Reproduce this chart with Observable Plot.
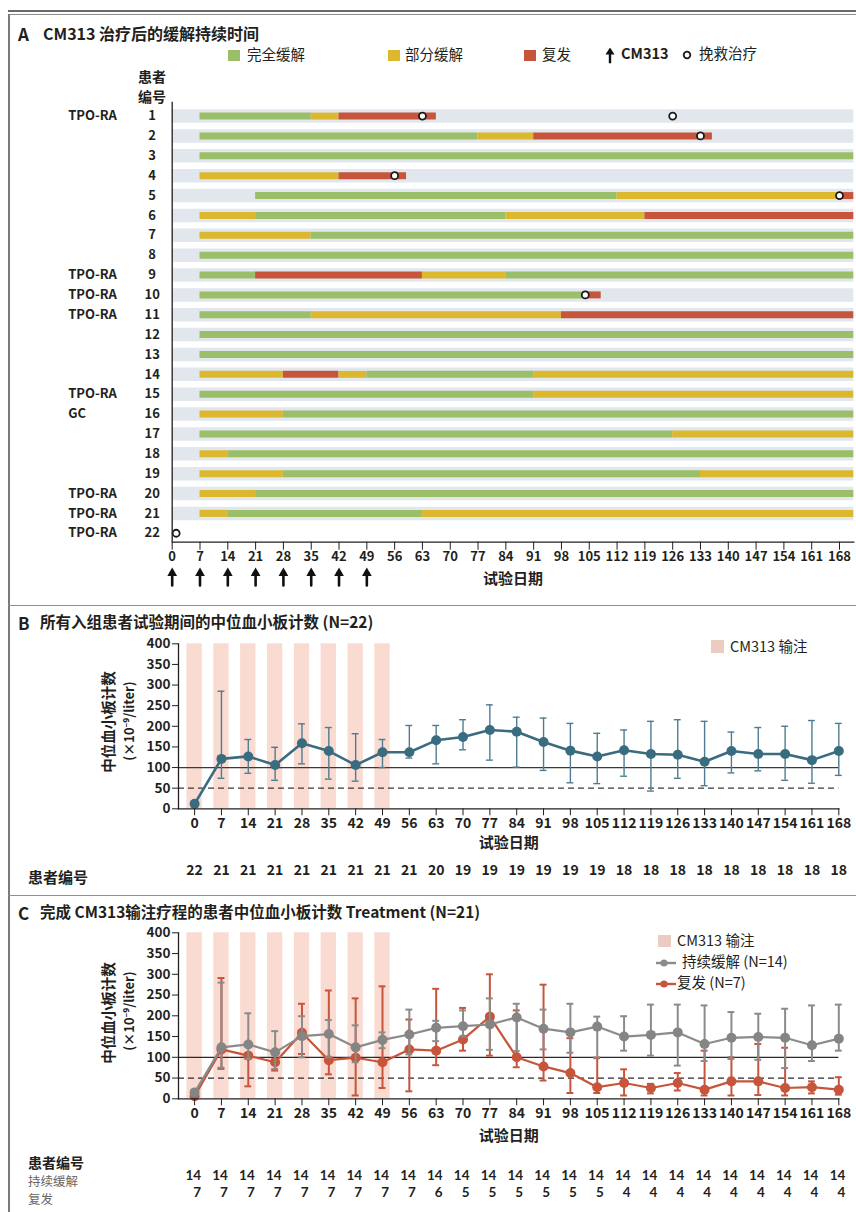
<!DOCTYPE html>
<html><head><meta charset="utf-8">
<script src="https://cdn.jsdelivr.net/npm/d3@7"></script>
<script src="https://cdn.jsdelivr.net/npm/@observablehq/plot@0.6"></script>
<style>
body{margin:0;background:#fff;}
#page{position:relative;width:856px;height:1212px;overflow:hidden;font-family:"Noto Sans CJK SC","Noto Sans",sans-serif;color:#231f20;background:#fff;}
.abs{position:absolute;white-space:nowrap;line-height:1;}
.line{position:absolute;}
.chart{position:absolute;left:0;}
</style></head>
<body><div id="page"></div>
<script>
// ---------------- DATA ----------------
const DAYS = [0,7,14,21,28,35,42,49,56,63,70,77,84,91,98,105,112,119,126,133,140,147,154,161,168];
const INFUSION_DAYS = [0,7,14,21,28,35,42,49];
const Y_TICKS = [0,50,100,150,200,250,300,350,400];

// Panel A: response durations
const PATIENTS = [1,2,3,4,5,6,7,8,9,10,11,12,13,14,15,16,17,18,19,20,21,22];
const PRIOR = ["TPO-RA","","","","","","","","TPO-RA","TPO-RA","TPO-RA","","","","TPO-RA","GC","","","","TPO-RA","TPO-RA","TPO-RA"];
const BAND_PATIENTS = [1,2,3,4,5,6,7,8,9,10,11,12,13,14,15,16,17,18,19,20,21];
const FOLLOW_END = 171.6;
const E = FOLLOW_END;
const SEG_PATIENT = [1,1,1, 2,2,2, 3, 4,4, 5,5,5, 6,6,6,6, 7,7, 8, 9,9,9,9, 10,10, 11,11,11, 12, 13, 14,14,14,14,14, 15,15, 16,16, 17,17, 18,18, 19,19,19, 20,20, 21,21,21];
const SEG_START   = [7,35,42, 7,77,91, 7, 7,42, 21,112,168, 7,21,84,119, 7,35, 7, 7,21,63,84, 7,104, 7,35,98, 7, 7, 7,28,42,49,91, 7,91, 7,28, 7,126, 7,14, 7,28,133, 7,21, 7,14,63];
const SEG_END     = [35,42,66.5, 77,91,136, E, 42,59, 112,168,E, 21,84,119,E, 35,E, E, 21,63,84,E, 104,108, 35,98,E, E, E, 28,42,49,91,E, 91,E, 28,E, 126,E, 14,E, 28,133,E, 21,E, 14,63,E];
const SEG_STATE   = ["CR","PR","R", "CR","PR","R", "CR", "PR","R", "CR","PR","R", "PR","CR","PR","R", "PR","CR", "CR", "CR","R","PR","CR", "CR","R", "CR","PR","R", "CR", "CR", "PR","R","PR","CR","PR", "CR","PR", "PR","CR", "CR","PR", "PR","CR", "PR","CR","PR", "PR","CR", "PR","CR","PR"];
const RESCUE_PATIENT = [1,1,2,4,5,10,22];
const RESCUE_DAY     = [63,126,133,56,168,104,1];

// Panel B: all enrolled patients
const B_MEDIAN = [12,121,127,106,159,140,106,137,137,166,174,191,187,162,141,127,142,133,131,114,140,133,133,118,140];
const B_LOW    = [null,74,86,69,109,72,67,100,123,109,143,118,101,93,63,61,79,43,74,56,87,92,69,62,81];
const B_HIGH   = [null,285,168,149,206,197,182,168,202,202,216,252,222,220,207,183,191,212,216,212,186,197,200,214,207];
const B_N      = [22,21,21,21,21,21,21,21,21,20,19,19,19,19,19,19,18,18,18,18,18,18,18,18,18];

// Panel C: sustained remission vs relapse
const REM_MEDIAN = [15,124,131,112,151,156,124,142,155,171,175,179,196,169,160,174,150,154,160,132,147,149,147,129,145];
const REM_LOW    = [8,75,96,72,100,100,88,122,107,139,150,118,115,119,111,100,116,104,80,91,96,94,74,91,116];
const REM_HIGH   = [22,280,206,163,199,190,177,160,215,188,213,242,229,215,229,198,199,227,227,225,209,205,217,225,227];
const REM_N      = [14,14,14,14,14,14,14,14,14,14,14,14,14,14,14,14,14,14,14,14,14,14,14,14,14];
const REL_MEDIAN = [6,119,104,88,159,93,99,88,119,116,143,198,100,78,62,28,38,26,38,22,42,42,26,28,22];
const REL_LOW    = [2,72,30,68,108,59,8,26,18,81,116,104,76,44,14,14,8,13,20,8,8,9,8,13,10];
const REL_HIGH   = [10,291,110,95,229,261,242,271,191,265,219,300,213,275,146,98,71,36,62,116,100,132,123,42,52];
const REL_N      = [7,7,7,7,7,7,7,7,7,6,5,5,5,5,5,5,4,4,4,4,4,4,4,4,4];

// ---------------- STYLE ----------------
const FONT = '"Noto Sans CJK SC","Noto Sans",sans-serif';
const NUMFONT = 'Lato,"Noto Sans CJK SC",sans-serif';
const INK = "#231f20";
const C_CR = "#9bbf69", C_PR = "#dcb82e", C_R = "#c6553b";
const BAND = "#e2e7ee";
const PINK = "#fadbd2", PINK_LEG = "#ecccc2";
const TEAL = "#3a6c80", TEAL_ERR = "#4e7d91";
const GRAY = "#8b8b8b", RED = "#c6553b";

const page = document.getElementById("page");
function label(html, x, y, style) {
  const d = document.createElement("div");
  d.className = "abs";
  d.style.left = x + "px"; d.style.top = y + "px";
  d.style.transform = "translateY(-50%)";
  d.innerHTML = html;
  Object.assign(d.style, style || {});
  page.appendChild(d); return d;
}
function hline(x, y, w, h, color) {
  const d = document.createElement("div"); d.className = "line";
  Object.assign(d.style, {left: x+"px", top: y+"px", width: w+"px", height: h+"px", background: color});
  page.appendChild(d);
}
function mount(svg, top) {
  const w = document.createElement("div"); w.className = "chart"; w.style.top = top + "px";
  w.appendChild(svg); page.appendChild(w);
}
const svgStyle = {fontFamily: FONT, fontSize: "13px", color: INK, background: "transparent", overflow: "visible"};
const ROT = "translate(-50%,-50%) rotate(-90deg)";
const CENTER = "translate(-50%,-50%)";

// ---------------- FRAME ----------------
hline(8, 10, 848, 1.6, "#6a6a6a");
hline(8, 13.6, 848, 1.4, "#8a8a8a");
hline(8, 14, 1.6, 1198, "#7a7a7a");
hline(8, 604.5, 848, 1.8, "#8f8f8f");
hline(8, 894.5, 848, 1.8, "#8f8f8f");

// ---------------- PANEL A ----------------
const segs = SEG_PATIENT.map((p, i) => ({patient: p, start: SEG_START[i], end: SEG_END[i], state: SEG_STATE[i]}));
const rescue = RESCUE_PATIENT.map((p, i) => ({patient: p, day: RESCUE_DAY[i]}));
const priorRows = PATIENTS.map((p, i) => ({patient: p, prior: PRIOR[i]})).filter(d => d.prior);

const chartA = Plot.plot({
  width: 856, height: 600,
  marginLeft: 171.7, marginRight: 2.7, marginTop: 101.7, marginBottom: 58.3,
  x: {domain: [0, FOLLOW_END]},
  y: {domain: [0.3, 22.45], reverse: true},
  color: {domain: ["CR", "PR", "R"], range: [C_CR, C_PR, C_R]},
  style: svgStyle,
  marks: [
    Plot.ruleY(BAND_PATIENTS, {y: d => d, stroke: BAND, strokeWidth: 13.5}),
    Plot.ruleY(segs, {y: "patient", x1: "start", x2: "end", stroke: "state", strokeWidth: 7}),
    Plot.dot(rescue, {x: "day", y: "patient", r: 3.5, fill: "white", stroke: "#1a1a1a", strokeWidth: 1.8}),
    Plot.ruleX([0], {stroke: INK, strokeWidth: 1.3}),
    Plot.frame({anchor: "bottom", stroke: INK, strokeWidth: 1.3}),
    Plot.axisX({ticks: DAYS, tickSize: 8, tickPadding: 2, fontSize: 13, fontWeight: 600, label: null, stroke: INK, fill: INK}),
    Plot.axisY({ticks: PATIENTS, tickSize: 0, tickPadding: 20, textAnchor: "middle", fontSize: 13, fontWeight: 600, label: null, fill: INK}),
    Plot.text(priorRows, {y: "patient", text: "prior", frameAnchor: "left", dx: -104, textAnchor: "start", fontSize: 13, fontWeight: 600, fill: INK}),
    Plot.vector(INFUSION_DAYS, {x: d => d, frameAnchor: "bottom", dy: 43.3, length: 14, anchor: "start", r: 2, stroke: "#111", strokeWidth: 2.6}),
    Plot.dot(INFUSION_DAYS, {x: d => d, frameAnchor: "bottom", dy: 30.9, symbol: "triangle", r: 3.6, fill: "#111", stroke: "none"}),
    Plot.text(["试验日期"], {frameAnchor: "bottom", dy: 41.5, fontSize: 15, fontWeight: 700, fill: INK})
  ]
});
mount(chartA, 0);

label("A", 18, 33, {fontSize: "17px", fontWeight: 700});
label("CM313 治疗后的缓解持续时间", 43, 33, {fontSize: "16px", fontWeight: 700});
label("患者", 152, 75.5, {fontSize: "14px", fontWeight: 700, transform: CENTER});
label("编号", 152, 95.5, {fontSize: "14px", fontWeight: 700, transform: CENTER});
// legend A
const sq = (c) => `<span style="display:inline-block;width:12px;height:11px;background:${c};"></span>`;
label(sq(C_CR), 228, 54);
label("完全缓解", 247, 54, {fontSize: "14.5px"});
label(sq(C_PR), 388, 54);
label("部分缓解", 405, 54, {fontSize: "14.5px"});
label(sq(C_R), 524, 54);
label("复发", 542, 54, {fontSize: "14.5px"});
label(`<svg width="10" height="16" viewBox="0 0 10 16"><path d="M5 0 L9.5 7 L0.5 7 Z" fill="#111"/><line x1="5" y1="5" x2="5" y2="16" stroke="#111" stroke-width="2.4"/></svg>`, 605, 56);
label("CM313", 621, 53, {fontSize: "14.5px", fontWeight: 700});
label(`<svg width="10" height="10"><circle cx="5" cy="5" r="3.3" fill="white" stroke="#1a1a1a" stroke-width="1.8"/></svg>`, 682, 53);
label("挽救治疗", 699, 53, {fontSize: "14.5px"});

// ---------------- PANEL B ----------------
const bData = DAYS.map((d, i) => ({day: d, med: B_MEDIAN[i], lo: B_LOW[i], hi: B_HIGH[i], n: B_N[i]}));
const bErr = bData.filter(d => d.lo != null);
const CAP = 0.9;

function axesBC() {
  return [
    Plot.frame({anchor: "left", stroke: INK, strokeWidth: 1.3}),
    Plot.frame({anchor: "bottom", stroke: INK, strokeWidth: 1.3}),
    Plot.axisY({ticks: Y_TICKS, tickSize: 6, tickPadding: 2, fontSize: 13.5, fontWeight: 600, label: null, stroke: INK, fill: INK}),
    Plot.axisX({ticks: DAYS, tickSize: 7, tickPadding: 2, fontSize: 14, fontWeight: 600, label: null, stroke: INK, fill: INK})
  ];
}
function errorMarks(data, color, width) {
  return [
    Plot.ruleX(data, {x: "day", y1: "lo", y2: "hi", stroke: color, strokeWidth: width}),
    Plot.ruleY(data, {y: "hi", x1: d => d.day - CAP, x2: d => d.day + CAP, stroke: color, strokeWidth: width}),
    Plot.ruleY(data, {y: "lo", x1: d => d.day - CAP, x2: d => d.day + CAP, stroke: color, strokeWidth: width})
  ];
}

const chartB = Plot.plot({
  width: 856, height: 255,
  marginLeft: 178, marginRight: 17.7, marginTop: 13.3, marginBottom: 76.7,
  x: {domain: [-4.2, 168]},
  y: {domain: [0, 400]},
  style: svgStyle,
  marks: [
    Plot.rect(INFUSION_DAYS, {x1: d => d - 2, x2: d => d + 2, fill: PINK}),
    Plot.ruleY([100], {stroke: "#3a3a3a", strokeWidth: 1.2}),
    Plot.ruleY([50], {stroke: "#3a3a3a", strokeWidth: 1.2, strokeDasharray: "6,4"}),
    ...errorMarks(bErr, TEAL_ERR, 1.4),
    Plot.line(bData, {x: "day", y: "med", stroke: TEAL, strokeWidth: 2.6}),
    Plot.dot(bData, {x: "day", y: "med", r: 5, fill: TEAL}),
    ...axesBC(),
    Plot.text(["试验日期"], {frameAnchor: "bottom", dy: 39, fontSize: 15, fontWeight: 700, fill: INK}),
    Plot.text(bData, {x: "day", text: d => String(d.n), frameAnchor: "bottom", dy: 66, fontSize: 14, fontWeight: 600, fill: INK})
  ]
});
mount(chartB, 630);

label("B", 18, 622, {fontSize: "17px", fontWeight: 700});
label("所有入组患者试验期间的中位血小板计数 (N=22)", 40, 622, {fontSize: "15.5px", fontWeight: 700});
label("中位血小板计数", 108, 722, {fontSize: "14.5px", fontWeight: 700, transform: ROT});
label("(×10⁻⁹/liter)", 128, 721, {fontSize: "13px", fontWeight: 700, transform: ROT});
label(`<span style="display:inline-block;width:13px;height:13px;background:${PINK_LEG};"></span>`, 711, 646);
label("CM313 输注", 730, 646, {fontSize: "14.5px"});
label("患者编号", 28, 876, {fontSize: "15px", fontWeight: 700});

// ---------------- PANEL C ----------------
const remData = DAYS.map((d, i) => ({day: d, med: REM_MEDIAN[i], lo: REM_LOW[i], hi: REM_HIGH[i], n: REM_N[i]}));
const relData = DAYS.map((d, i) => ({day: d, med: REL_MEDIAN[i], lo: REL_LOW[i], hi: REL_HIGH[i], n: REL_N[i]}));

const chartC = Plot.plot({
  width: 856, height: 292,
  marginLeft: 178, marginRight: 17.7, marginTop: 12.3, marginBottom: 113.7,
  x: {domain: [-4.2, 168]},
  y: {domain: [0, 400]},
  style: svgStyle,
  marks: [
    Plot.rect(INFUSION_DAYS, {x1: d => d - 2, x2: d => d + 2, fill: PINK}),
    Plot.ruleY([100], {stroke: "#2a2a2a", strokeWidth: 1.2}),
    Plot.ruleY([50], {stroke: "#2a2a2a", strokeWidth: 1.2, strokeDasharray: "6,4"}),
    ...errorMarks(relData, RED, 2),
    Plot.line(relData, {x: "day", y: "med", stroke: RED, strokeWidth: 2.2}),
    Plot.dot(relData, {x: "day", y: "med", r: 5, fill: RED}),
    ...errorMarks(remData, GRAY, 2),
    Plot.line(remData, {x: "day", y: "med", stroke: GRAY, strokeWidth: 2.2}),
    Plot.dot(remData, {x: "day", y: "med", r: 5, fill: "#858585"}),
    ...axesBC(),
    Plot.text(["试验日期"], {frameAnchor: "bottom", dy: 42.5, fontSize: 15, fontWeight: 700, fill: INK}),
    Plot.text(remData, {x: "day", text: d => String(d.n), frameAnchor: "bottom", dy: 81.5, textAnchor: "end", dx: 6.5, fontFamily: NUMFONT, fontSize: 13.5, fontWeight: 700, fill: INK}),
    Plot.text(relData, {x: "day", text: d => String(d.n), frameAnchor: "bottom", dy: 98, textAnchor: "end", dx: 6.5, fontFamily: NUMFONT, fontSize: 13.5, fontWeight: 700, fill: INK})
  ]
});
mount(chartC, 920);

label("C", 18, 911.5, {fontSize: "17px", fontWeight: 700});
label("完成 CM313输注疗程的患者中位血小板计数 Treatment (N=21)", 40, 911.5, {fontSize: "15.5px", fontWeight: 700});
label("中位血小板计数", 108, 1013, {fontSize: "14.5px", fontWeight: 700, transform: ROT});
label("(×10⁻⁹/liter)", 128, 1011, {fontSize: "13px", fontWeight: 700, transform: ROT});
label(`<span style="display:inline-block;width:13px;height:12px;background:${PINK_LEG};"></span>`, 658, 940);
label("CM313 输注", 677, 940, {fontSize: "14.5px"});
const lineSym = (c) => `<svg width="22" height="10"><line x1="1" y1="5" x2="21" y2="5" stroke="${c}" stroke-width="2.4"/><circle cx="9" cy="5" r="3.6" fill="${c}"/></svg>`;
label(lineSym(GRAY), 655, 961);
label("持续缓解 (N=14)", 682, 961, {fontSize: "14.5px"});
label(lineSym(RED), 655, 982);
label("复发 (N=7)", 677, 982, {fontSize: "14.5px"});
label("患者编号", 28, 1162, {fontSize: "14px", fontWeight: 700});
label("持续缓解", 28, 1181, {fontSize: "12.5px", color: "#666"});
label("复发", 28, 1199.2, {fontSize: "12.5px", color: "#666"});
</script>
</body></html>
